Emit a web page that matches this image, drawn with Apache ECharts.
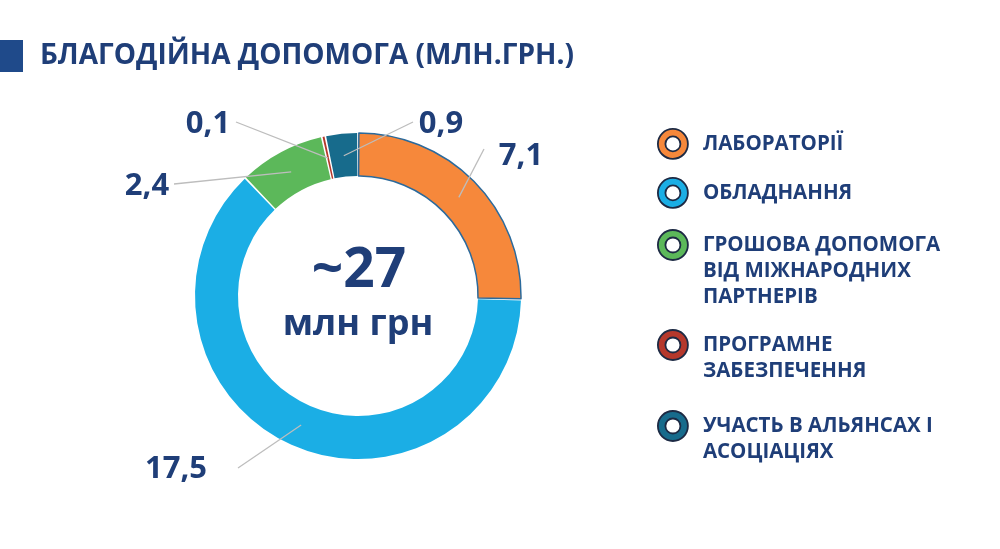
<!DOCTYPE html>
<html><head><meta charset="utf-8">
<script src="https://cdn.jsdelivr.net/npm/echarts@6/dist/echarts.min.js"></script>
<style>html,body{margin:0;padding:0;background:#fff}#c{width:1000px;height:549px}</style>
</head><body><div id="c"></div>
<script>
const categories = ['ЛАБОРАТОРІЇ','ОБЛАДНАННЯ','ГРОШОВА ДОПОМОГА ВІД МІЖНАРОДНИХ ПАРТНЕРІВ','ПРОГРАМНЕ ЗАБЕЗПЕЧЕННЯ','УЧАСТЬ В АЛЬЯНСАХ І АСОЦІАЦІЯХ'];
const legendLabels = ['ЛАБОРАТОРІЇ','ОБЛАДНАННЯ','ГРОШОВА ДОПОМОГА\nВІД МІЖНАРОДНИХ\nПАРТНЕРІВ','ПРОГРАМНЕ\nЗАБЕЗПЕЧЕННЯ','УЧАСТЬ В АЛЬЯНСАХ І\nАСОЦІАЦІЯХ'];
const values = [7.1, 17.5, 2.4, 0.1, 0.9];
const totalLabel = '~27';
const unitLabel = 'млн грн';
const titleText = 'БЛАГОДІЙНА ДОПОМОГА (МЛН.ГРН.)';

// styles / layout
const colors = ['#F6883B', '#1BAEE5', '#5CB85A', '#B5382C', '#176B8C'];
const navy = '#1F3E78';
const labelSpots = [
  {x: 521, y: 156, ex: 484, ey: 149},
  {x: 176, y: 469, ex: 238, ey: 468},
  {x: 147, y: 186, ex: 174, ey: 184},
  {x: 208, y: 124, ex: 236, ey: 122},
  {x: 441, y: 124, ex: 413, ey: 122}
];
const legendIconY = [143, 192, 245, 345, 426];
const lineH = 26;
const center = [358, 296];

const ringIcon = 'path://M15,0A15,15,0,1,1,14.99,0ZM15,7.5A7.5,7.5,0,1,0,15.01,7.5Z';

const legends = categories.map((name, i) => {
  const lines = legendLabels[i].split('\n');
  const n = lines.length;
  const H = (2 * n - 1) * lineH;
  const top = legendIconY[i] - Math.max(15, H / 2);
  const text = new Array(n - 1).fill('').concat(lines).join('\n');
  return {
    data: [name], left: 657, top: top, padding: 0, orient: 'vertical',
    selectedMode: false, icon: ringIcon, itemWidth: 30, itemHeight: 30,
    itemStyle: {borderColor: '#1d2a44', borderWidth: 1.8},
    formatter: () => text,
    textStyle: {
      color: navy, fontFamily: 'Open Sans', fontWeight: 'bold', fontSize: 20.5,
      lineHeight: lineH, padding: [0, 0, 0, 10]
    }
  };
});

const chart = echarts.init(document.getElementById('c'));
chart.setOption({
  animation: false,
  color: colors,
  legend: legends,
  graphic: [
    {type: 'rect', shape: {x: 0, y: 40, width: 23, height: 32}, style: {fill: '#1F4A8A'}},
    {type: 'text', x: 40, y: 56, style: {text: titleText, fill: navy, font: 'bold 28px "Open Sans"', verticalAlign: 'middle'}},
    {type: 'text', x: 359, y: 271, style: {text: totalLabel, fill: navy, font: 'bold 55px "Open Sans"', align: 'center', verticalAlign: 'middle'}},
    {type: 'text', x: 358, y: 325, style: {text: unitLabel, fill: navy, font: 'bold 36px "Open Sans"', align: 'center', verticalAlign: 'middle'}}
  ],
  series: [
    {
      type: 'pie', center: center, radius: [120, 163], startAngle: 90, clockwise: true,
      padAngle: 0.6, silent: true, label: {show: false}, labelLine: {show: false},
      data: categories.map((n, i) => ({
        name: n, value: values[i],
        itemStyle: i === 0 ? {borderColor: '#2B6A9C', borderWidth: 1.5} : {}
      }))
    },
    {
      type: 'pie', z: 5, center: center, radius: [0, 141], startAngle: 90, clockwise: true,
      padAngle: 0.6, silent: true, avoidLabelOverlap: false,
      itemStyle: {color: 'rgba(0,0,0,0)'},
      label: {
        show: true, position: 'outside', color: navy, fontFamily: 'Open Sans', fontWeight: 'bold', fontSize: 31,
        formatter: p => String(p.value).replace('.', ',')
      },
      labelLine: {show: true, length: 20, length2: 10, lineStyle: {color: '#BDBDBD', width: 1.3}},
      labelLayout: function (params) {
        const s = labelSpots[params.dataIndex];
        const start = params.labelLinePoints ? params.labelLinePoints[0] : [s.ex, s.ey];
        return {x: s.x, y: s.y, align: 'center', verticalAlign: 'middle',
                labelLinePoints: [start, [s.ex, s.ey], [s.ex, s.ey]]};
      },
      data: categories.map((n, i) => ({name: n, value: values[i]}))
    }
  ]
});
</script></body></html>
